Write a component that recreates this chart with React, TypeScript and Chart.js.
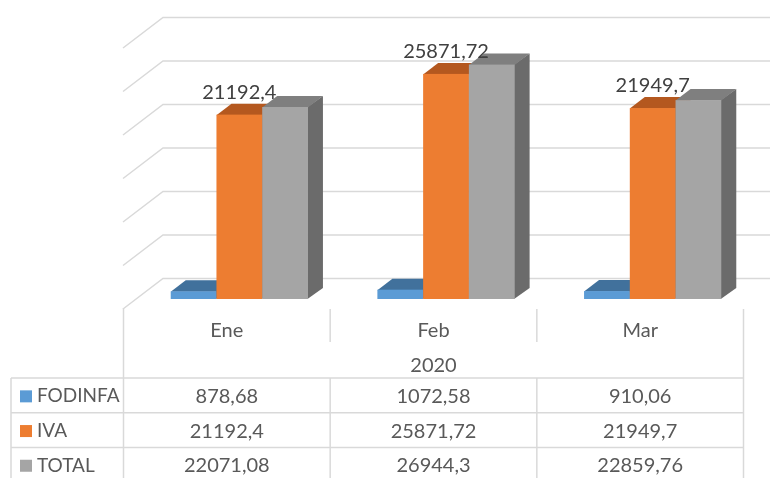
import React, { useEffect, useRef } from "react";
import { Chart, registerables } from "chart.js";

Chart.register(...registerables);

const categories = ["Ene", "Feb", "Mar"];
const groupLabel = "2020";
const seriesNames = ["FODINFA", "IVA", "TOTAL"];
const fodinfa = [878.68, 1072.58, 910.06];
const iva = [21192.4, 25871.72, 21949.7];
const total = [22071.08, 26944.3, 22859.76];
const yMax = 30000;
const yStep = 5000;

const frontColors = ["#5b9bd5", "#ed7d31", "#a5a5a5"];
const topColors = ["#41719c", "#b4581f", "#7f7f7f"];
const sideColors = ["#3d6a94", "#ad551d", "#6b6b6b"];

const FONT = "Lato, 'Open Sans', 'Noto Sans', sans-serif";
const GRID = "#d9d9d9";
const fmt = (v: number) => String(v).replace(".", ",");

// depth geometry
const BDX = 15;
const BDY = 11;
const WDX = 40;
const WDY = 30.5;
const FRONT_OFF_X = 13;
const FRONT_OFF_Y = 10;

const threeD = {
  id: "threeD",
  beforeDatasetsDraw(chart: any) {
    const { ctx, chartArea } = chart;
    const y = chart.scales.y;
    ctx.save();
    ctx.strokeStyle = GRID;
    ctx.lineWidth = 1.5;
    y.ticks.forEach((t: any) => {
      const yv = y.getPixelForValue(t.value);
      const fx = chartArea.left - FRONT_OFF_X;
      const fy = yv + FRONT_OFF_Y;
      ctx.beginPath();
      ctx.moveTo(fx, fy);
      ctx.lineTo(fx + WDX, fy - WDY);
      ctx.lineTo(chart.width, fy - WDY);
      ctx.stroke();
    });
    ctx.restore();
  },
  beforeDatasetDraw() {
    return false;
  },
  afterDatasetsDraw(chart: any) {
    const { ctx } = chart;
    ctx.save();
    const n = chart.data.labels.length;
    for (let i = 0; i < n; i++) {
      chart.data.datasets.forEach((_: any, d: number) => {
        const el = chart.getDatasetMeta(d).data[i];
        const { x, y, base, width } = el.getProps(["x", "y", "base", "width"], true);
        const l = x - width / 2;
        const r = x + width / 2;
        ctx.fillStyle = sideColors[d];
        ctx.beginPath();
        ctx.moveTo(r - 0.5, y);
        ctx.lineTo(r + BDX, y - BDY);
        ctx.lineTo(r + BDX, base - BDY);
        ctx.lineTo(r - 0.5, base);
        ctx.closePath();
        ctx.fill();
        ctx.fillStyle = topColors[d];
        ctx.beginPath();
        ctx.moveTo(l, y + 0.5);
        ctx.lineTo(l + BDX, y - BDY);
        ctx.lineTo(r + BDX, y - BDY);
        ctx.lineTo(r, y + 0.5);
        ctx.closePath();
        ctx.fill();
        ctx.fillStyle = frontColors[d];
        ctx.fillRect(l, y, width, base - y);
      });
    }
    const meta = chart.getDatasetMeta(1);
    ctx.fillStyle = "#404040";
    ctx.font = `20px ${FONT}`;
    ctx.textAlign = "center";
    ctx.textBaseline = "alphabetic";
    meta.data.forEach((el: any, i: number) => {
      const { x, y } = el.getProps(["x", "y"], true);
      ctx.fillText(fmt(iva[i]), x, y - 16);
    });
    ctx.restore();
  },
  afterDraw(chart: any) {
    const { ctx } = chart;
    const xs = chart.scales.x;
    const ys = chart.scales.y;
    const n = categories.length;
    const catW = (xs.right - xs.left) / n;
    const colX: number[] = [];
    for (let i = 0; i <= n; i++) {
      colX.push(xs.left + i * catW - 12.5);
    }
    const base = ys.getPixelForValue(0);
    const tableTop = base + 10;
    const sepBottom = base + 43;
    const rowsTop = base + 79;
    const rowH = 34.7;
    const bottom = chart.height + 5;
    const legendLeft = 11;

    ctx.save();
    ctx.strokeStyle = GRID;
    ctx.lineWidth = 1.5;
    const line = (x1: number, y1: number, x2: number, y2: number) => {
      ctx.beginPath();
      ctx.moveTo(x1, y1);
      ctx.lineTo(x2, y2);
      ctx.stroke();
    };
    line(colX[0], tableTop - 1, colX[0], bottom);
    line(colX[n], tableTop, colX[n], bottom);
    for (let i = 1; i < n; i++) {
      line(colX[i], tableTop, colX[i], sepBottom);
      line(colX[i], rowsTop, colX[i], bottom);
    }
    line(legendLeft, rowsTop, legendLeft, bottom);
    for (let r = 0; r <= seriesNames.length; r++) {
      const yy = rowsTop + r * rowH;
      line(legendLeft, yy, colX[n], yy);
    }

    ctx.fillStyle = "#595959";
    ctx.font = `20px ${FONT}`;
    ctx.textAlign = "center";
    ctx.textBaseline = "middle";
    for (let i = 0; i < n; i++) {
      const cx = (colX[i] + colX[i + 1]) / 2;
      ctx.fillText(categories[i], cx, base + 32);
    }
    ctx.fillText(groupLabel, (colX[0] + colX[n]) / 2, base + 67);

    const rows = [fodinfa, iva, total];
    rows.forEach((vals, r) => {
      const cy = rowsTop + r * rowH + rowH / 2 + 1;
      ctx.fillStyle = frontColors[r];
      ctx.fillRect(20, cy - 6, 12, 12);
      ctx.fillStyle = "#595959";
      ctx.textAlign = "left";
      ctx.font = `19px ${FONT}`;
      ctx.fillText(seriesNames[r], 37, cy);
      ctx.font = `20px ${FONT}`;
      ctx.textAlign = "center";
      vals.forEach((v, i) => {
        const cx = (colX[i] + colX[i + 1]) / 2;
        ctx.fillText(fmt(v), cx, cy);
      });
    });
    ctx.restore();
  },
};

export default function App() {
  const ref = useRef<HTMLCanvasElement | null>(null);
  useEffect(() => {
    if (!ref.current) return;
    const chart = new Chart(ref.current, {
      type: "bar",
      data: {
        labels: categories,
        datasets: [
          { label: seriesNames[0], data: fodinfa, backgroundColor: frontColors[0] },
          { label: seriesNames[1], data: iva, backgroundColor: frontColors[1] },
          { label: seriesNames[2], data: total, backgroundColor: frontColors[2] },
        ],
      },
      options: {
        responsive: false,
        animation: false,
        layout: { padding: { left: 136, right: 14, top: 38, bottom: 179 } },
        datasets: { bar: { categoryPercentage: 0.664, barPercentage: 1 } },
        plugins: { legend: { display: false }, tooltip: { enabled: false } },
        scales: {
          x: { display: false },
          y: { display: false, min: 0, max: yMax, ticks: { stepSize: yStep } },
        },
      },
      plugins: [threeD],
    });
    return () => chart.destroy();
  }, []);
  return (
    <canvas
      ref={ref}
      width={770}
      height={478}
      style={{ position: "absolute", left: 0, top: 0, display: "block" }}
    />
  );
}
